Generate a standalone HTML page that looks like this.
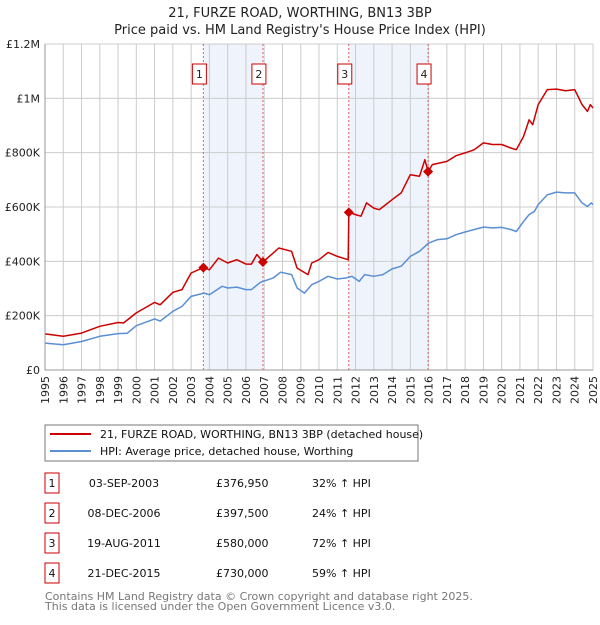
<!DOCTYPE html>
<html><head><meta charset="utf-8"><style>
body{margin:0;background:#fff;font-family:"Liberation Sans","DejaVu Sans",sans-serif;}
svg text{font-family:"DejaVu Sans","Liberation Sans",sans-serif;}
</style></head><body>
<svg id="chart" width="600" height="620" viewBox="0 0 600 620" xmlns="http://www.w3.org/2000/svg">
<text x="300" y="17" text-anchor="middle" font-size="13" fill="#222">21, FURZE ROAD, WORTHING, BN13 3BP</text>
<text x="300" y="34" text-anchor="middle" font-size="13" fill="#222">Price paid vs. HM Land Registry's House Price Index (HPI)</text>
<g id="plot"></g>
<rect x="45" y="425" width="373" height="36" fill="#fff" stroke="#777"/>
<line x1="50" y1="434" x2="91" y2="434" stroke="#cc0000" stroke-width="2"/>
<text x="100" y="438" font-size="11" fill="#111">21, FURZE ROAD, WORTHING, BN13 3BP (detached house)</text>
<line x1="50" y1="451" x2="91" y2="451" stroke="#5b8fd4" stroke-width="2"/>
<text x="100" y="455" font-size="11" fill="#111">HPI: Average price, detached house, Worthing</text>
<g id="table"></g>
<text x="45" y="600" font-size="11" fill="#777">Contains HM Land Registry data © Crown copyright and database right 2025.</text>
<text x="45" y="610" font-size="11" fill="#777">This data is licensed under the Open Government Licence v3.0.</text>
</svg>
<script>
const yTickValues=[0,200000,400000,600000,800000,1000000,1200000];
const yTickLabels=["£0","£200K","£400K","£600K","£800K","£1M","£1.2M"];
const xTickYears=[1995,1996,1997,1998,1999,2000,2001,2002,2003,2004,2005,2006,2007,2008,2009,2010,2011,2012,2013,2014,2015,2016,2017,2018,2019,2020,2021,2022,2023,2024,2025];
const hpiYears=[1995,1996,1997,1998,1999,1999.5,2000,2001,2001.3,2002,2002.5,2003,2003.7,2004,2004.7,2005,2005.5,2006,2006.3,2006.8,2007.5,2007.9,2008.5,2008.8,2009.2,2009.6,2010,2010.5,2011,2011.5,2011.8,2012.2,2012.5,2013,2013.5,2014,2014.5,2015,2015.5,2016,2016.5,2017,2017.5,2018,2018.5,2019,2019.5,2020,2020.5,2020.8,2021.2,2021.5,2021.8,2022,2022.5,2023,2023.5,2024,2024.4,2024.7,2024.9,2025];
const hpiValues=[99,93,105,124,134,135,163,188,180,216,234,271,283,277,308,302,305,296,296,323,339,360,351,302,283,314,326,345,335,339,345,326,351,345,351,372,382,418,437,467,480,483,498,508,517,526,523,525,517,510,547,572,584,609,645,655,652,652,615,602,615,609];
const propYears=[1995,1996,1997,1998,1999,1999.3,2000,2001,2001.3,2002,2002.5,2003,2003.67,2004,2004.5,2005,2005.5,2006,2006.3,2006.6,2006.93,2007.5,2007.8,2008.5,2008.8,2009.4,2009.6,2010,2010.5,2011,2011.6,2011.63,2012,2012.3,2012.6,2013,2013.3,2014,2014.5,2015,2015.5,2015.8,2015.97,2016.2,2017,2017.5,2018,2018.5,2019,2019.5,2020,2020.5,2020.8,2021.2,2021.5,2021.7,2022,2022.5,2023,2023.5,2024,2024.4,2024.7,2024.85,2025];
const propValues=[133,124,136,161,175,173,210,249,240,286,296,357,377,369,412,394,406,390,390,425,397.5,431,449,437,375,351,394,406,433,418,406,580,572,566,615,596,590,627,652,719,713,774,730,756,768,789,799,811,836,830,830,817,811,860,921,903,977,1032,1034,1028,1032,977,952,977,964];
const saleLabels=["1","2","3","4"];
const saleYears=[2003.67,2006.93,2011.63,2015.97];
const saleValues=[376950,397500,580000,730000];
const saleDates=["03-SEP-2003","08-DEC-2006","19-AUG-2011","21-DEC-2015"];
const salePrices=["£376,950","£397,500","£580,000","£730,000"];
const saleHpi=["32% ↑ HPI","24% ↑ HPI","72% ↑ HPI","59% ↑ HPI"];

const NS="http://www.w3.org/2000/svg";
const X0=45,X1=593,Y0=370,Y1=44;
const xs=y=>X0+(y-1995)/30*(X1-X0);
const ys=v=>Y0-v/1200000*(Y0-Y1);
const plot=document.getElementById('plot');
function mk(tag,attrs,parent){const e=document.createElementNS(NS,tag);for(const k in attrs)e.setAttribute(k,attrs[k]);(parent||plot).appendChild(e);return e;}
for(let i=0;i<4;i+=2){
 const r=mk('rect',{x:xs(saleYears[i]),y:Y1,width:xs(saleYears[i+1])-xs(saleYears[i]),height:Y0-Y1,fill:'#eef3fc'});
 
 
}
xTickYears.forEach(yr=>{
 const l=mk('line',{x1:xs(yr),x2:xs(yr),y1:Y1,y2:Y0,stroke:'#ccc','stroke-width':1});
 
 
 const t=mk('text',{x:0,y:0,'font-size':11,fill:'#222','text-anchor':'end',transform:`translate(${xs(yr)+4},${Y0+6}) rotate(-90)`});
 t.textContent=yr;
 
 
});
yTickValues.forEach((v,i)=>{
 const l=mk('line',{x1:X0,x2:X1,y1:ys(v),y2:ys(v),stroke:'#ccc','stroke-width':1});
 
 
 const t=mk('text',{x:X0-5,y:ys(v)+4,'font-size':11,fill:'#222','text-anchor':'end'});
 t.textContent=yTickLabels[i];
 
 
});
saleYears.forEach((yr,i)=>{
 const l=mk('line',{x1:xs(yr),x2:xs(yr),y1:Y1,y2:Y0,stroke:'#e86060','stroke-width':1,'stroke-dasharray':'2,2'});
 
 
 const bx=xs(yr)-11;
 const b=mk('rect',{x:bx,y:64,width:14,height:20,fill:'#fff',stroke:'#cc0000'});
 
 
 const t=mk('text',{x:bx+7,y:78,'font-size':11,fill:'#222','text-anchor':'middle'});
 t.textContent=saleLabels[i];
 
 
});
function line(years,vals,color,name){
 const d=years.map((y,i)=>(i?'L':'M')+xs(y).toFixed(1)+','+ys(vals[i]*1000).toFixed(1)).join('');
 const p=mk('path',{d:d,fill:'none',stroke:color,'stroke-width':1.5,'stroke-linejoin':'round'});
 
 
}
line(hpiYears,hpiValues,'#5b8fd4','hpi-line');
line(propYears,propValues,'#cc0000','property-price-line');
saleYears.forEach((yr,i)=>{
 const cx=xs(yr),cy=ys(saleValues[i]);
 const m=mk('path',{d:`M${cx},${cy-5}L${cx+5},${cy}L${cx},${cy+5}L${cx-5},${cy}Z`,fill:'#cc0000'});
 
 
});
const axis=mk('path',{d:`M${X0},${Y1}V${Y0}H${X1}`,fill:'none',stroke:'#999'});


const tbl=document.getElementById('table');
saleLabels.forEach((s,i)=>{
 const y=483+i*30;
 const b=mk('rect',{x:45,y:y-10,width:14,height:20,fill:'#fff',stroke:'#cc0000'},tbl);
 
 
 const cells=[[52,s,'middle','table-row-number'],[124,saleDates[i],'middle','table-row-date'],[216,salePrices[i],'start','table-row-price'],[312,saleHpi[i],'start','table-row-hpi-change']];
 cells.forEach(c=>{
  const t=mk('text',{x:c[0],y:y+4,'font-size':11,fill:'#111','text-anchor':c[2]},tbl);
  t.textContent=c[1];
  
  
 });
});
</script>
</body></html>
